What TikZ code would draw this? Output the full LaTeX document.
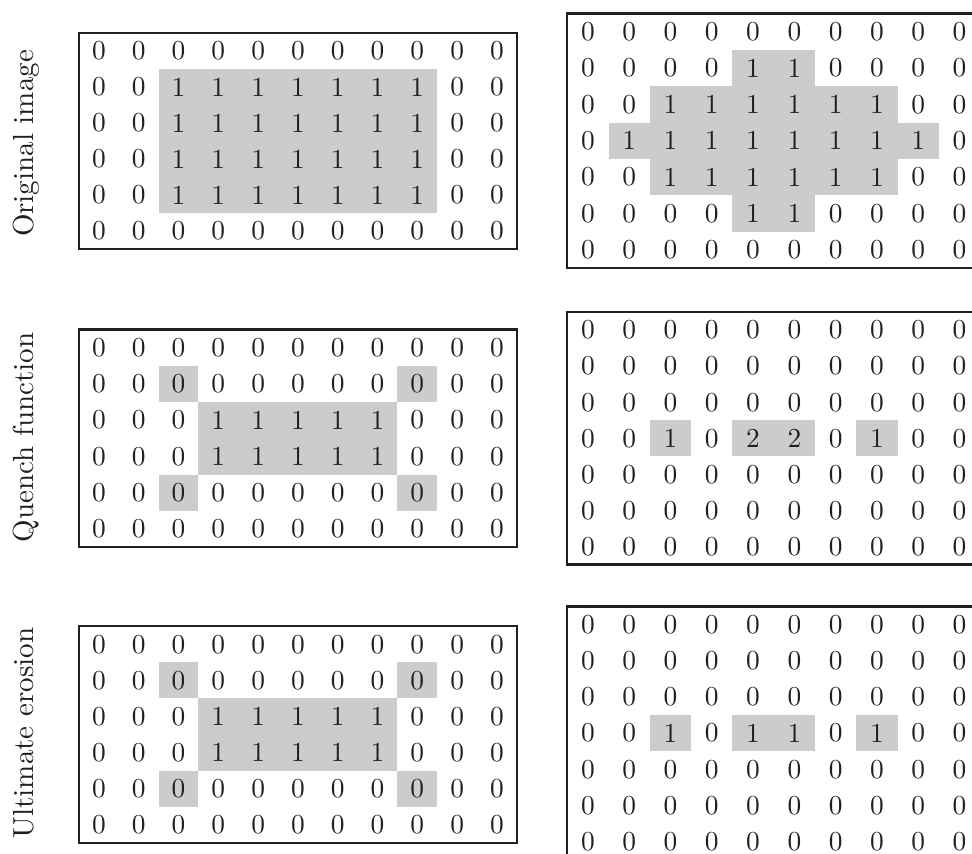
\documentclass[tikz,border=0pt]{standalone}
\usepackage{tikz}

\definecolor{cellgray}{RGB}{204,204,204}
\definecolor{ink}{RGB}{35,31,32}

\tikzset{
  digit/.style={inner sep=0pt,scale=2.74,text=ink},
  rowtitle/.style={inner sep=0pt,scale=2.9,rotate=90,anchor=base,text=ink},
  gridframe/.style={draw=ink,line width=2.5pt},
  cellfill/.style={fill=cellgray},
}

% one matrix of digits, rows given as {a,b,...},{...}
\newcommand\digitgrid[2]{%
  \foreach \row [count=\r from 0] in {#2} {
    \foreach \v [count=\c from 0] in \row
      \node[digit] (#1-\r-\c) at (\c+.5,\r+.5) {\v};
  }}

\begin{document}
\begin{tikzpicture}[x=1pt,y=-1pt]
\useasboundingbox (0,0) rectangle (972,854);
\node[rowtitle] (title1) at (33.5,143.5) {Original image};
\node[rowtitle] (title2) at (33.5,437.5) {Quench function};
\node[rowtitle] (title3) at (33.5,733) {Ultimate erosion};

% left column
\begin{scope}[shift={(79,33)},x=39.8pt,y=-36pt]
\fill[cellfill] (2,1) rectangle (9,5);
\digitgrid{L1}{{0,0,0,0,0,0,0,0,0,0,0},{0,0,1,1,1,1,1,1,1,0,0},{0,0,1,1,1,1,1,1,1,0,0},
  {0,0,1,1,1,1,1,1,1,0,0},{0,0,1,1,1,1,1,1,1,0,0},{0,0,0,0,0,0,0,0,0,0,0}}
\draw[gridframe] (0,0) rectangle (11,6);
\end{scope}

\begin{scope}[shift={(79,329.5)},x=39.8pt,y=-36.25pt]
\fill[cellfill] (2,1) rectangle (3,2);
\fill[cellfill] (8,1) rectangle (9,2);
\fill[cellfill] (3,2) rectangle (8,4);
\fill[cellfill] (2,4) rectangle (3,5);
\fill[cellfill] (8,4) rectangle (9,5);
\digitgrid{L2}{{0,0,0,0,0,0,0,0,0,0,0},{0,0,0,0,0,0,0,0,0,0,0},{0,0,0,1,1,1,1,1,0,0,0},
  {0,0,0,1,1,1,1,1,0,0,0},{0,0,0,0,0,0,0,0,0,0,0},{0,0,0,0,0,0,0,0,0,0,0}}
\draw[gridframe] (0,0) rectangle (11,6);
\end{scope}

\begin{scope}[shift={(79,626.2)},x=39.8pt,y=-36.1pt]
\fill[cellfill] (2,1) rectangle (3,2);
\fill[cellfill] (8,1) rectangle (9,2);
\fill[cellfill] (3,2) rectangle (8,4);
\fill[cellfill] (2,4) rectangle (3,5);
\fill[cellfill] (8,4) rectangle (9,5);
\digitgrid{L3}{{0,0,0,0,0,0,0,0,0,0,0},{0,0,0,0,0,0,0,0,0,0,0},{0,0,0,1,1,1,1,1,0,0,0},
  {0,0,0,1,1,1,1,1,0,0,0},{0,0,0,0,0,0,0,0,0,0,0},{0,0,0,0,0,0,0,0,0,0,0}}
\draw[gridframe] (0,0) rectangle (11,6);
\end{scope}

% right column
\begin{scope}[shift={(567.2,13.3)},x=41.3pt,y=-36.4pt]
\fill[cellfill] (4,1) rectangle (6,6);
\fill[cellfill] (2,2) rectangle (8,5);
\fill[cellfill] (1,3) rectangle (9,4);
\digitgrid{R1}{{0,0,0,0,0,0,0,0,0,0},{0,0,0,0,1,1,0,0,0,0},{0,0,1,1,1,1,1,1,0,0},
  {0,1,1,1,1,1,1,1,1,0},{0,0,1,1,1,1,1,1,0,0},{0,0,0,0,1,1,0,0,0,0},{0,0,0,0,0,0,0,0,0,0}}
\draw[gridframe] (0,0) rectangle (10,7);
\end{scope}

\begin{scope}[shift={(567.2,312)},x=41.3pt,y=-36.1pt]
\fill[cellfill] (2,3) rectangle (3,4);
\fill[cellfill] (4,3) rectangle (6,4);
\fill[cellfill] (7,3) rectangle (8,4);
\digitgrid{R2}{{0,0,0,0,0,0,0,0,0,0},{0,0,0,0,0,0,0,0,0,0},{0,0,0,0,0,0,0,0,0,0},
  {0,0,1,0,2,2,0,1,0,0},{0,0,0,0,0,0,0,0,0,0},{0,0,0,0,0,0,0,0,0,0},{0,0,0,0,0,0,0,0,0,0}}
\draw[gridframe] (0,0) rectangle (10,7);
\end{scope}

\begin{scope}[shift={(567.2,606.3)},x=41.3pt,y=-36.2pt]
\fill[cellfill] (2,3) rectangle (3,4);
\fill[cellfill] (4,3) rectangle (6,4);
\fill[cellfill] (7,3) rectangle (8,4);
\digitgrid{R3}{{0,0,0,0,0,0,0,0,0,0},{0,0,0,0,0,0,0,0,0,0},{0,0,0,0,0,0,0,0,0,0},
  {0,0,1,0,1,1,0,1,0,0},{0,0,0,0,0,0,0,0,0,0},{0,0,0,0,0,0,0,0,0,0},{0,0,0,0,0,0,0,0,0,0}}
\draw[gridframe] (0,0) rectangle (10,7);
\end{scope}
\end{tikzpicture}
\end{document}
